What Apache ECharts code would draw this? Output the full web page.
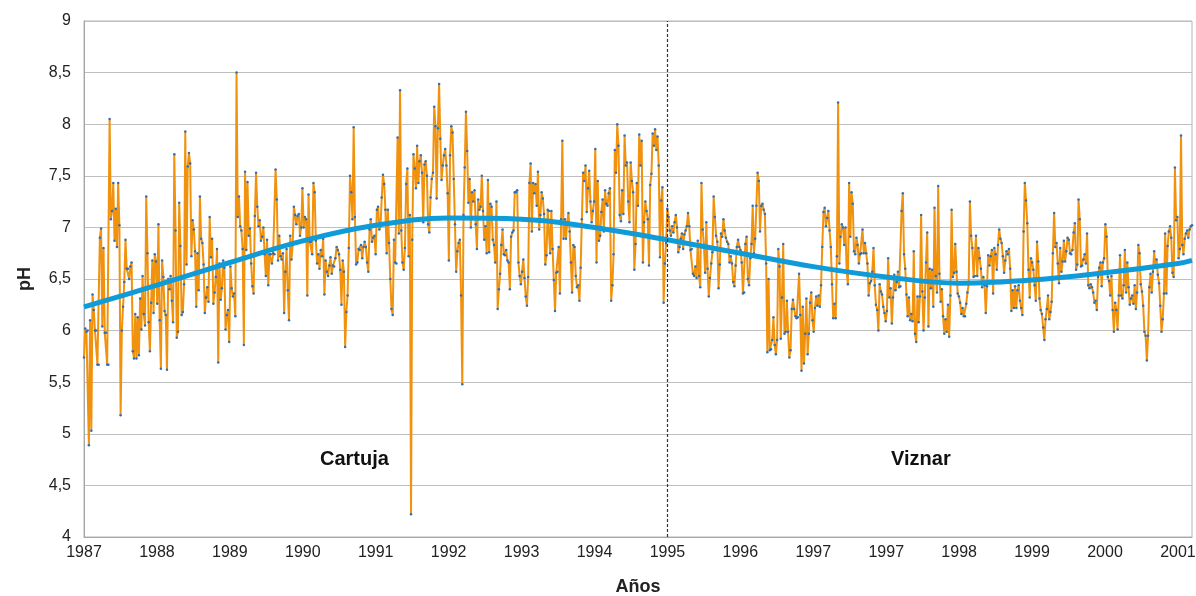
<!DOCTYPE html>
<html>
<head>
<meta charset="utf-8">
<script src="https://cdn.jsdelivr.net/npm/echarts@6/dist/echarts.min.js"></script>
<style>html,body{margin:0;padding:0;background:#fff}#c{width:1196px;height:596px}</style>
</head>
<body>
<div id="c"></div>
<script>
// Tick labels of the horizontal axis (as printed in the source chart)
const xTickLabels = ['1987','1988','1989','1990','1991','1992','1993','1994','1995','1996','1997','1997','1998','1999','2000','2001'];

// pH series in consecutive chunks (Cartuja until 1995, Viznar after)
const ph1 = [5.74,6.02,5.99,6.0,4.89,6.1,5.03,6.35,6.2,6.0,6.0,5.67,5.67,6.9,6.99,6.04,6.8,5.98,5.98,5.67,5.67,8.05,7.08,7.16,7.43,6.87,7.18,6.81,7.43,7.02,5.18,6.0,6.23,6.47,6.88,6.6,6.6,6.5,6.62,6.66,5.8,5.73,6.16,5.73,6.13,5.76,6.31,6.01,6.53,6.16,6.05,7.3,6.75,6.08,5.8,6.27,6.68,6.17,6.74,6.67,6.26,7.03,6.1,5.63,6.68,6.52,6.19,6.15,5.62,6.5,6.4,6.53,6.29,6.08,7.71];
const ph2 = [6.97,5.93,5.99,7.24,6.82,6.15,6.18,6.45,7.93,6.64,7.59,7.72,7.62,6.72,7.07,6.98,6.77,6.23,6.75,6.39,7.30,6.89,6.85,6.64,6.17,6.32,6.42,6.28,7.10,6.71,6.89,6.26,6.37,6.52,6.79,5.69,6.65,6.30,6.41,6.68,6.61,6.01,6.15,6.20,5.89,6.62,6.41,6.33,6.36,6.14,8.5,7.10,7.30,7.01,6.97,6.79,5.86,7.54,6.78,7.44,6.92,6.99,6.65,6.43,6.36,7.11,7.53,7.20,7.01,7.07,6.87,6.91,7.0,6.74,6.53];
const ph3 = [6.88,6.44,6.74,6.74,6.65,6.75,6.74,7.56,7.27,6.68,6.92,6.72,6.69,6.75,6.17,6.57,6.79,6.39,6.10,6.92,6.69,6.83,7.20,7.12,7.03,7.11,7.13,6.92,7.0,7.38,7.0,7.10,7.08,6.34,7.32,6.86,6.86,6.74,7.43,7.34,6.87,6.65,6.74,6.60,6.78,6.72,6.89,6.35,6.68,6.57,6.53,6.63,6.71,6.55,6.63,6.62,6.70,6.81,6.78,6.74,6.59,6.25,6.68,6.57,5.84,6.18,6.34,6.80,7.50,7.34,7.08,7.97,7.10,6.64,6.66,6.79];
const ph4 = [6.78,6.83,6.70,6.81,6.86,6.81,6.66,6.57,6.98,7.08,6.86,6.90,6.92,6.74,7.17,7.20,6.98,7.01,7.29,7.51,7.42,7.17,6.75,7.17,6.85,6.50,6.21,6.15,6.88,6.66,6.65,7.87,6.94,8.33,6.97,6.66,6.59,6.80,7.42,7.57,6.72,7.12,4.22,6.88,7.71,7.57,7.38,7.79,7.43,7.64,7.70,7.53,7.05,7.61,7.64,7.50,7.03,6.95,7.29,7.47,7.53,8.17,7.98,7.28,7.96,8.39,7.86,7.46,7.60,7.70,7.76,7.60,7.33,6.68,7.70,7.98];
const ph5 = [7.92,7.47,7.03,6.57,6.77,6.85,6.88,6.34,5.48,7.12,7.58,8.12,7.74,7.24,7.47,7.0,7.34,7.25,7.36,7.03,6.79,7.27,7.17,7.20,7.50,7.16,6.88,7.01,6.75,7.46,6.76,7.23,7.20,6.88,6.83,6.66,7.25,6.21,6.40,6.55,6.83,6.98,6.74,6.73,6.78,6.68,6.66,6.40,6.91,6.95,6.97,7.34,7.34,7.36,6.66,6.53,6.45,6.57,6.69,6.51,6.33,6.24,6.52,7.43,7.62,6.96,7.43,7.33,7.42,7.21,7.54,6.98,7.12,7.34,7.28];
const ph6 = [7.13,6.64,6.73,7.17,7.16,6.75,7.16,6.79,6.49,6.19,6.56,6.57,6.81,6.36,7.08,7.84,6.89,7.08,6.89,7.05,7.14,6.96,6.66,6.37,6.83,6.81,6.53,6.42,6.44,6.29,6.61,7.08,7.53,7.45,7.60,7.15,7.38,7.55,7.25,7.05,7.16,7.25,7.76,6.66,7.45,6.87,6.92,7.15,7.27,6.96,7.36,7.23,7.21,7.33,7.38,6.29,6.44,6.74,7.75,7.53,8.0,7.79,7.12,7.06,7.36,7.13,7.89,7.60,7.63,7.25,7.05,7.63,7.45,7.34,6.59];
const ph7 = [6.84,7.43,7.21,7.90,7.60,7.84,6.66,7.05,7.25,7.16,7.08,6.63,7.41,7.52,7.91,7.79,7.95,7.75,7.88,7.60,6.71,7.26,7.39,6.27,6.65,6.85,7.18,7.10,6.97,6.92,7.01,6.95,7.05,7.12,7.0,6.76,6.81,6.89,6.94,6.79,6.93,6.97,7.01,7.14,7.01,6.78,6.79,6.55,6.53,6.62,6.51,6.87,6.53,6.42,7.43,6.98,6.83,6.56,7.05,6.60,6.33,6.51,6.65,6.76,7.30,7.10,6.92,6.86,6.41,6.64,6.94,6.91,7.08,6.97,6.90,6.86];
const ph8 = [6.84,6.66,6.72,6.65,6.47,6.43,6.63,6.81,6.88,6.81,6.78,6.66,6.36,6.37,6.84,6.91,6.50,6.44,6.70,6.84,7.21,6.75,6.89,7.21,7.53,7.45,6.96,7.21,7.23,7.17,7.13,6.65,5.79,6.50,5.81,5.82,5.91,6.13,5.86,5.77,5.91,6.79,6.62,5.92,6.32,6.84,5.97,5.99,6.29,5.99,5.74,5.81,6.21,6.30,6.21,6.14,6.12,6.13,6.55,6.15,5.61,6.23,5.68,5.97,6.31,5.77,5.97,6.27,6.37,6.10,5.99,6.22,6.33,6.24,6.34];
const ph9 = [6.23,6.44,6.81,7.15,7.19,7.01,7.09,7.16,6.97,6.81,6.45,6.12,6.26,6.12,6.72,8.21,6.65,6.91,7.03,7.0,6.83,7.0,6.57,6.45,7.43,6.91,7.34,7.23,6.77,6.74,6.90,6.83,6.65,6.74,6.75,6.98,6.75,6.85,6.75,6.65,6.34,6.46,6.48,6.57,6.80,6.44,6.25,6.20,6.0,6.45,6.38,6.35,6.23,6.17,6.09,6.19,6.70,6.32,6.41,6.07,6.32,6.54,6.39,6.47,6.57,6.42,6.43,7.16,7.33,6.74,6.60,6.35,6.14,6.32,6.10];
const ph10 = [6.16,6.09,6.77,5.97,5.89,6.33,6.08,6.33,7.12,6.38,6.0,6.32,6.66,6.95,6.04,6.60,6.41,6.59,6.23,7.19,6.53,6.37,7.40,6.55,6.28,6.40,6.14,5.97,6.11,5.99,6.25,5.94,6.34,7.17,6.52,6.56,6.84,6.57,6.36,6.33,6.27,6.16,6.22,6.14,6.14,6.26,6.37,6.45,7.25,6.92,6.80,6.52,6.53,6.92,6.53,6.80,6.70,6.60,6.42,6.52,6.44,6.17,6.43,6.73,6.63,6.72,6.78,6.36,6.80,6.74,6.59,6.83,6.98,6.89,6.85,6.72];
const ph11 = [6.56,6.68,6.77,6.74,6.79,6.60,6.19,6.39,6.22,6.43,6.22,6.39,6.44,6.29,6.22,6.15,6.96,7.43,7.26,7.04,6.59,6.32,6.70,6.66,6.59,6.44,6.29,6.86,6.67,6.31,6.20,6.16,6.03,5.91,6.11,6.21,6.34,6.11,6.18,6.28,6.75,7.14,6.81,6.85,6.65,6.46,6.80,6.57,6.67,6.87,6.67,6.77,6.90,6.88,6.75,6.74,6.78,6.95,7.04,6.59,6.64,7.27,7.08,6.62,6.63,6.69,6.74,6.65,6.94,6.44,6.41,6.45,6.42,6.37,6.27];
const ph12 = [6.29,6.20,6.52,6.61,6.66,6.43,6.66,6.70,7.03,6.91,6.52,6.48,6.34,6.53,6.20,5.99,6.27,6.20,6.01,6.34,6.73,6.34,6.31,6.44,6.78,6.37,6.66,6.42,6.25,6.31,6.34,6.26,6.44,6.21,6.37,6.83,6.75,6.45,6.38,6.24,5.99,5.95,5.71,5.95,6.42,6.55,6.37,6.57,6.77,6.61,6.69,6.54,6.46,6.24,5.99,6.11,6.36,6.94,6.36,6.82,6.96,7.01,6.90,6.56,6.52,7.58,7.07,7.10,6.70,6.79,7.89,6.83,6.74,6.89,6.94,6.97,6.90,6.98,7.01,7.02];

// Polynomial trend (blue), read at each tick label and at the last point
const trendAtTicks = [6.23,6.44,6.66,6.87,7.02,7.09,7.08,7.00,6.88,6.75,6.62,6.52,6.46,6.49,6.56,6.65];
const trendAtEnd = 6.68;

const regionLabels = ['Cartuja', 'Viznar'];

const ph = [].concat(ph1,ph2,ph3,ph4,ph5,ph6,ph7,ph8,ph9,ph10,ph11,ph12);
const N = ph.length;
const plotW = 1196 - 84 - 4;
const tickStep = (N - 1) * 72.93 / plotW;

const phData = ph.map((v, i) => [i, v]);
const trendData = trendAtTicks.map((v, j) => [j * tickStep, v]).concat([[N - 1, trendAtEnd]]);

const chart = echarts.init(document.getElementById('c'), null, {renderer: 'canvas'});
const FONT = "'Liberation Sans Narrow','Liberation Sans',Arial,sans-serif";
chart.setOption({
  animation: false,
  backgroundColor: '#ffffff',
  grid: {left: 84, right: 4, top: 21, bottom: 59, containLabel: false, outerBoundsMode: 'none',
         show: true, borderColor: '#b5b5b5', borderWidth: 1, backgroundColor: 'transparent'},
  xAxis: {
    type: 'value', min: 0, max: N - 1, interval: tickStep,
    name: 'Años', nameLocation: 'middle', nameGap: 41,
    nameTextStyle: {fontFamily: "'Liberation Sans',Arial,sans-serif", fontWeight: 'bold', fontSize: 18, color: '#222'},
    axisLine: {show: true, lineStyle: {color: '#a6a6a6', width: 1}},
    axisTick: {show: false},
    splitLine: {show: false},
    axisLabel: {
      show: true, showMaxLabel: false, margin: 8,
      fontFamily: FONT, fontSize: 16, color: '#222',
      formatter: function (v) { const k = Math.round(v / tickStep); return xTickLabels[k] || ''; }
    }
  },
  yAxis: {
    type: 'value', min: 4, max: 9, interval: 0.5,
    name: 'pH', nameLocation: 'middle', nameGap: 50, nameRotate: 90,
    nameTextStyle: {fontFamily: "'Liberation Sans',Arial,sans-serif", fontWeight: 'bold', fontSize: 18, color: '#222'},
    axisLine: {show: true, lineStyle: {color: '#a6a6a6', width: 1}},
    axisTick: {show: false},
    splitLine: {show: true, lineStyle: {color: '#bfbfbf', width: 1}},
    axisLabel: {
      margin: 13, fontFamily: FONT, fontSize: 16, color: '#222',
      formatter: function (v) { return String(v).replace('.', ','); }
    }
  },
  series: [
    {
      type: 'line', data: phData, z: 2,
      symbol: 'circle', symbolSize: 2.5, showSymbol: true,
      itemStyle: {color: '#2e6fb5'},
      lineStyle: {color: '#f0920e', width: 2},
      markLine: {
        silent: true, symbol: ['none', 'none'], label: {show: false},
        lineStyle: {color: '#333', type: [3, 2], width: 1.2},
        data: [{xAxis: 8 * tickStep}]
      }
    },
    {
      type: 'line', data: trendData, z: 3, smooth: 0.4,
      symbol: 'none', lineStyle: {color: '#0e9bd8', width: 5}
    }
  ],
  graphic: [
    {type: 'text', left: 320, top: 449, style: {text: regionLabels[0], font: "bold 20px 'Liberation Sans',Arial,sans-serif", fill: '#111'}},
    {type: 'text', left: 891, top: 449, style: {text: regionLabels[1], font: "bold 20px 'Liberation Sans',Arial,sans-serif", fill: '#111'}}
  ]
});
</script>
</body>
</html>
